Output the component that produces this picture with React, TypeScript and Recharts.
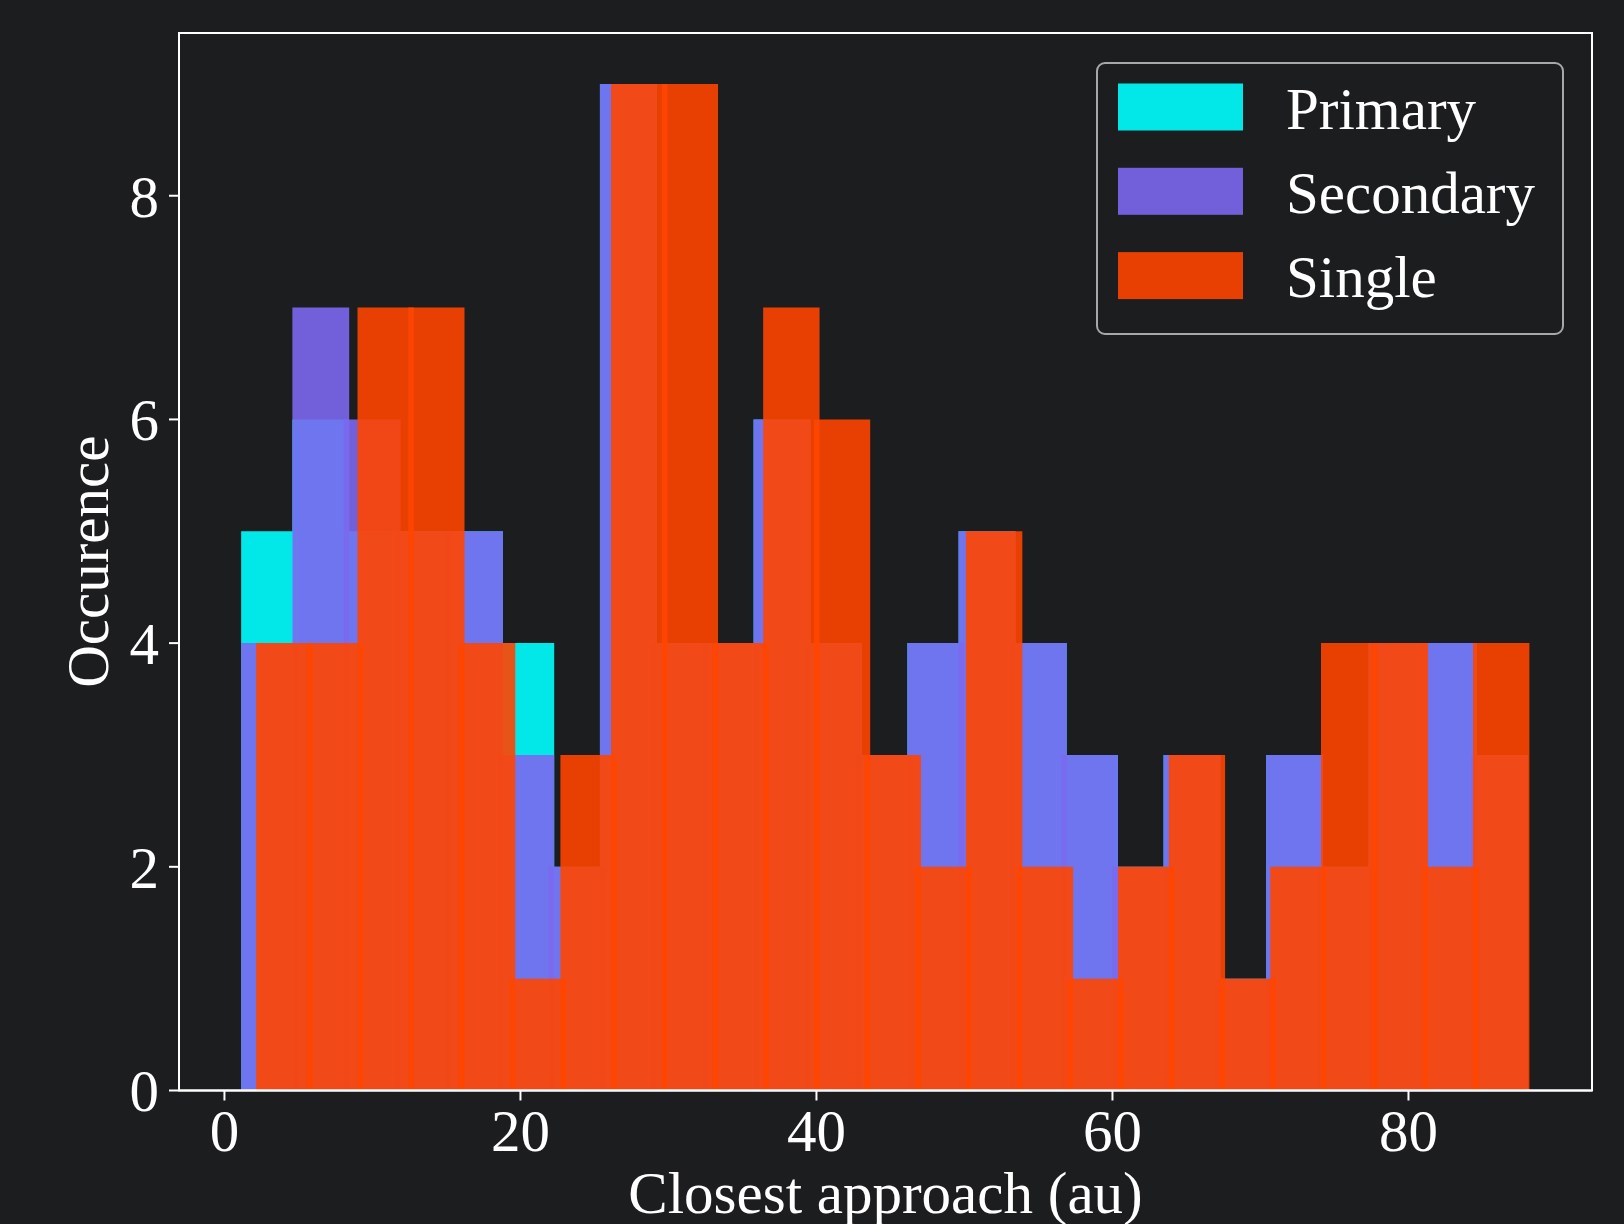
import React from 'react';
import { ComposedChart, XAxis, YAxis, ReferenceArea, Legend } from 'recharts';

// ---- data ----
const binaryEdges = [1.32, 4.78, 8.24, 11.71, 15.17, 18.63, 22.09, 25.56, 29.02, 32.48, 35.94, 39.41, 42.87, 46.33, 49.79, 53.26, 56.72, 60.18, 63.64, 67.11, 70.57, 74.03, 77.49, 80.96, 84.42, 87.88];
const singleEdges = [2.33, 5.76, 9.18, 12.61, 16.03, 19.46, 22.89, 26.31, 29.74, 33.16, 36.59, 40.02, 43.44, 46.87, 50.29, 53.72, 57.15, 60.57, 64.0, 67.42, 70.85, 74.28, 77.7, 81.13, 84.55, 87.98];
const primaryCounts = [5, 6, 5, 5, 5, 4, 2, 9, 4, 4, 6, 4, 3, 4, 5, 4, 3, 2, 3, 1, 3, 2, 4, 4, 3];
const secondaryCounts = [4, 7, 6, 5, 5, 3, 2, 9, 4, 4, 6, 4, 3, 4, 5, 4, 3, 2, 3, 1, 3, 2, 4, 4, 3];
const singleCounts = [4, 4, 7, 7, 4, 1, 3, 9, 9, 4, 7, 6, 3, 2, 5, 2, 1, 2, 3, 1, 2, 4, 4, 2, 4];
const xTicks = [0, 20, 40, 60, 80];
const yTicks = [0, 2, 4, 6, 8];
const xDomain = [-3.07, 92.4];
const yDomain = [0, 9.455];

// ---- style ----
const BG = '#1c1d1f';
const FG = '#ffffff';
const FONT = '"Liberation Serif", "Times New Roman", serif';
const FS = 59;
const ALPHA = 0.9;
const OVERHANG = 0.19;

const series = [
  { name: 'Primary', color: '#00ffff', edges: binaryEdges, counts: primaryCounts },
  { name: 'Secondary', color: '#7b68ee', edges: binaryEdges, counts: secondaryCounts },
  { name: 'Single', color: '#ff4500', edges: singleEdges, counts: singleCounts },
];

const tableData = singleCounts.map((c, i) => ({ x: singleEdges[i], y: c }));

const LegendBox = () => (
  <svg width={468} height={274} style={{ display: 'block' }}>
    <rect x={1} y={1} width={466} height={271} rx={8} ry={8} fill={BG} stroke="#a8a8a8" strokeWidth={2} />
    {series.map((s, i) => (
      <g key={s.name}>
        <rect x={22} y={21.5 + i * 84.3} width={125} height={47} fill={s.color} fillOpacity={ALPHA} />
        <text x={190} y={66.6 + i * 84.3} fill={FG} fontSize={FS} fontFamily={FONT}>{s.name}</text>
      </g>
    ))}
  </svg>
);

const XLabel = (props: any) => {
  const vb = props.viewBox || {};
  return (
    <text x={vb.x + vb.width / 2} y={vb.y + 122.5} textAnchor="middle" fill={FG} fontSize={FS} fontFamily={FONT}>
      Closest approach (au)
    </text>
  );
};

const YLabel = (props: any) => {
  const vb = props.viewBox || {};
  const cx = vb.x + 108;
  const cy = vb.y + vb.height / 2;
  return (
    <text x={cx} y={cy} transform={`rotate(-90, ${cx}, ${cy})`} textAnchor="middle" fill={FG} fontSize={FS} fontFamily={FONT}>
      Occurence
    </text>
  );
};

const tickStyle = { fill: FG, fontSize: FS, fontFamily: FONT };

export default function App() {
  return (
    <div style={{ position: 'absolute', left: 0, top: 0, width: 1624, height: 1224, background: BG, overflow: 'hidden' }}>
      <ComposedChart width={1624} height={1224} data={tableData} margin={{ top: 33, right: 32, bottom: 0, left: 0 }}>
        <XAxis
          xAxisId="b"
          type="number"
          dataKey="x"
          domain={xDomain}
          allowDataOverflow
          ticks={xTicks}
          height={133.5}
          tick={tickStyle}
          tickSize={10}
          tickMargin={9}
          stroke={FG}
          axisLine={{ stroke: FG, strokeWidth: 2 }}
          tickLine={{ stroke: FG, strokeWidth: 2 }}
          label={<XLabel />}
        />
        <YAxis
          yAxisId="l"
          type="number"
          domain={yDomain}
          allowDataOverflow
          ticks={yTicks}
          width={179}
          tick={tickStyle}
          tickSize={10}
          tickMargin={10}
          stroke={FG}
          axisLine={{ stroke: FG, strokeWidth: 2 }}
          tickLine={{ stroke: FG, strokeWidth: 2 }}
          label={<YLabel />}
        />
        {series.map((s) =>
          s.counts.map((c, k) => (
            <ReferenceArea
              key={`${s.name}-${k}`}
              xAxisId="b"
              yAxisId="l"
              x1={s.edges[k] - OVERHANG}
              x2={s.edges[k + 1] + OVERHANG}
              y1={0}
              y2={c}
              fill={s.color}
              fillOpacity={ALPHA}
              stroke="none"
              ifOverflow="visible"
            />
          ))
        )}
        <ReferenceArea
          xAxisId="b"
          yAxisId="l"
          x1={xDomain[0]}
          x2={xDomain[1]}
          y1={yDomain[0]}
          y2={yDomain[1]}
          fill="none"
          fillOpacity={0}
          stroke={FG}
          strokeWidth={2}
          ifOverflow="visible"
        />
        <Legend
          layout="vertical"
          align="center"
          verticalAlign="middle"
          content={() => <LegendBox />}
          wrapperStyle={{ position: 'absolute', left: 1096, top: 62, width: 468, height: 274 }}
        />
      </ComposedChart>
    </div>
  );
}
